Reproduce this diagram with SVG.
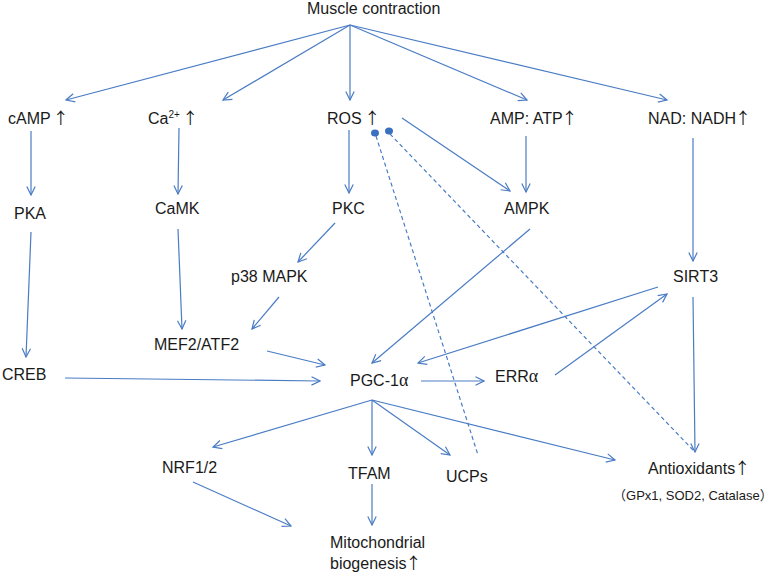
<svg xmlns="http://www.w3.org/2000/svg" width="777" height="575" viewBox="0 0 777 575">
<style>
text{font-family:"Liberation Sans",Arial,sans-serif;font-size:16px;fill:#1a1a1a}
.g{font-family:"Liberation Serif","Times New Roman",serif}
.k{font-family:"Noto Sans CJK SC","Noto Sans CJK JP",sans-serif}
.s{font-size:13px}
.c line{stroke:#4a7cc4;stroke-width:1.2;fill:none}
.c line.a{marker-end:url(#ah)}
.c line.d{stroke-dasharray:4,3}
</style>
<defs>
<marker id="ah" viewBox="0 0 10 10" markerUnits="userSpaceOnUse" markerWidth="10" markerHeight="10" refX="9" refY="5" orient="auto">
<path d="M0.5,0.8 L9,5 L0.5,9.2" fill="none" stroke="#4a7cc4" stroke-width="1.2"/>
</marker>
</defs>
<rect width="777" height="575" fill="#fff"/>
<g class="c" id="connectors">
<line class="a" x1="350" y1="25" x2="66" y2="100"/>
<line class="a" x1="350" y1="25" x2="223" y2="100"/>
<line class="a" x1="350" y1="25" x2="350" y2="100"/>
<line class="a" x1="350" y1="25" x2="527" y2="100"/>
<line class="a" x1="350" y1="25" x2="667" y2="100"/>
<line class="a" x1="31" y1="131" x2="31" y2="195"/>
<line class="a" x1="31" y1="232" x2="26" y2="357"/>
<line class="a" x1="179" y1="128" x2="178" y2="194"/>
<line class="a" x1="178" y1="229" x2="182" y2="329"/>
<line class="a" x1="349" y1="130" x2="349" y2="193"/>
<line class="a" x1="335" y1="223" x2="298" y2="262"/>
<line class="a" x1="279" y1="297" x2="252" y2="329"/>
<line class="a" x1="267" y1="351" x2="325" y2="365"/>
<line class="a" x1="65" y1="378" x2="320" y2="381"/>
<line class="a" x1="402" y1="118" x2="510" y2="191"/>
<line class="a" x1="526" y1="136" x2="526" y2="192"/>
<line class="a" x1="530" y1="229" x2="372" y2="363"/>
<line class="a" x1="693" y1="138" x2="693" y2="261"/>
<line class="a" x1="658" y1="287" x2="418" y2="363"/>
<line class="a" x1="555" y1="375" x2="667" y2="294"/>
<line class="a" x1="421" y1="381" x2="484" y2="381"/>
<line class="a" x1="693" y1="297" x2="695" y2="452"/>
<line class="a" x1="372" y1="400" x2="213" y2="447"/>
<line class="a" x1="372" y1="400" x2="372" y2="455"/>
<line class="a" x1="372" y1="400" x2="450" y2="455"/>
<line class="a" x1="372" y1="400" x2="615" y2="460"/>
<line class="a" x1="372" y1="484" x2="372" y2="525"/>
<line class="a" x1="193" y1="482" x2="291" y2="526"/>
<line class="d" x1="376" y1="136" x2="478" y2="455"/>
<line class="d" x1="390" y1="134" x2="693" y2="450"/>
<ellipse cx="375" cy="133" rx="4" ry="3.5" fill="#3a70c0"/>
<ellipse cx="389" cy="131" rx="4" ry="3.5" fill="#3a70c0"/>
</g>
<g id="n-muscle"><text x="307" y="14">Muscle contraction</text></g>
<g id="n-camp"><text x="8" y="124">cAMP <tspan class="k" dx="-2">↑</tspan></text></g>
<g id="n-ca"><text x="148" y="124">Ca<tspan font-size="10" dy="-6">2+</tspan><tspan dy="6"> </tspan><tspan class="k" dx="-2">↑</tspan></text></g>
<g id="n-ros"><text x="327" y="124">ROS <tspan class="k" dx="-2">↑</tspan></text></g>
<g id="n-ampatp"><text x="490" y="124">AMP: ATP<tspan class="k" dx="-1">↑</tspan></text></g>
<g id="n-nad"><text x="648" y="124">NAD: NADH<tspan class="k" dx="-1">↑</tspan></text></g>
<g id="n-pka"><text x="14" y="219">PKA</text></g>
<g id="n-camk"><text x="155" y="214">CaMK</text></g>
<g id="n-pkc"><text x="332" y="214">PKC</text></g>
<g id="n-ampk"><text x="504" y="214">AMPK</text></g>
<g id="n-p38"><text x="231" y="282">p38 MAPK</text></g>
<g id="n-sirt3"><text x="673" y="282">SIRT3</text></g>
<g id="n-mef2"><text x="154" y="350">MEF2/ATF2</text></g>
<g id="n-creb"><text x="2" y="380">CREB</text></g>
<g id="n-pgc"><text x="350" y="386">PGC-1<tspan class="g" font-size="18">α</tspan></text></g>
<g id="n-erra"><text x="495" y="382">ERR<tspan class="g" font-size="18">α</tspan></text></g>
<g id="n-nrf"><text x="162" y="473">NRF1/2</text></g>
<g id="n-tfam"><text x="348" y="479">TFAM</text></g>
<g id="n-ucps"><text x="446" y="482">UCPs</text></g>
<g id="n-mito"><text x="330" y="548">Mitochondrial</text><text x="330" y="569">biogenesis<tspan class="k" dx="-1">↑</tspan></text></g>
<g id="n-antiox"><text x="648" y="474">Antioxidants<tspan class="k" dx="-1">↑</tspan></text><text class="s" x="613" y="500"><tspan class="k">（</tspan>GPx1, SOD2, Catalase<tspan class="k">）</tspan></text></g>
</svg>
